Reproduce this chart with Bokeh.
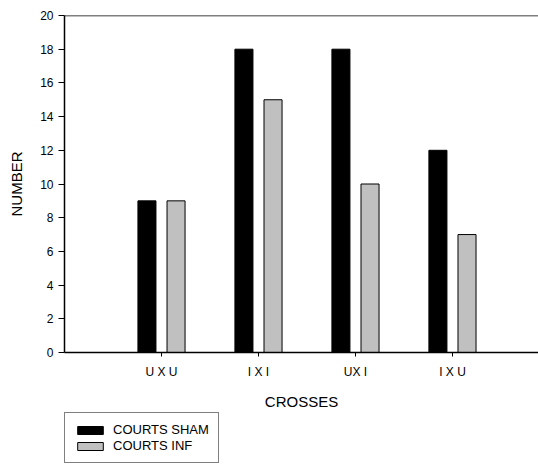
from bokeh.plotting import figure
from bokeh.layouts import column
from bokeh.models import Range1d, FixedTicker, ColumnDataSource, Legend, LegendItem, Span
from bokeh.embed import file_html
from bokeh.resources import INLINE

categories = ["U X U", "I X I", "UX I", "I X U"]
courts_sham = [9, 18, 18, 12]
courts_inf = [9, 15, 10, 7]
series_names = ["COURTS SHAM", "COURTS INF"]
y_ticks = [0, 2, 4, 6, 8, 10, 12, 14, 16, 18, 20]

xs = list(range(1, len(categories) + 1))
src = ColumnDataSource(dict(
    x_sham=[x - 0.15 for x in xs],
    x_inf=[x + 0.15 for x in xs],
    sham=courts_sham,
    inf=courts_inf,
))

FONT = "Liberation Sans"
SHAM_COLOR = "black"
INF_COLOR = "#c0c0c0"

p = figure(width=538, height=412, x_range=Range1d(0, 4.887), y_range=Range1d(0, 20),
           min_border_left=64, min_border_right=0, min_border_top=15, min_border_bottom=59,
           output_backend="svg", toolbar_location=None)

p.vbar(x="x_sham", top="sham", width=0.186, source=src,
       fill_color=SHAM_COLOR, line_color="black", line_width=1)
p.vbar(x="x_inf", top="inf", width=0.186, source=src,
       fill_color=INF_COLOR, line_color="black", line_width=1)

p.grid.visible = False
p.outline_line_color = None
p.background_fill_color = "white"
p.border_fill_color = "white"

p.add_layout(Span(location=20, dimension="width", line_color="black", line_width=1.5))

for ax in (p.xaxis, p.yaxis):
    ax.axis_label_text_font = FONT
    ax.axis_label_text_font_size = "15px"
    ax.axis_label_text_font_style = "normal"
    ax.axis_label_text_color = "black"
    ax.major_label_text_font = FONT
    ax.major_label_text_font_size = "12px"
    ax.major_label_text_color = "black"
    ax.major_tick_in = 0
    ax.minor_tick_line_color = None
    ax.axis_line_width = 1.5
    ax.axis_line_color = "black"
    ax.major_tick_line_color = "black"

# y axis
p.yaxis.ticker = FixedTicker(ticks=y_ticks)
p.yaxis.axis_label = "NUMBER"
p.yaxis.axis_label_standoff = 12
p.yaxis.major_label_standoff = 5
p.yaxis.major_tick_out = 6

# x axis
p.xaxis.ticker = FixedTicker(ticks=xs)
p.xaxis.major_label_overrides = {x: c for x, c in zip(xs, categories)}
p.xaxis.axis_label = "CROSSES"
p.xaxis.axis_label_standoff = 11
p.xaxis.major_label_standoff = 8
p.xaxis.major_tick_out = 4

# legend strip below the chart
p2 = figure(width=538, height=54, x_range=Range1d(0, 1), y_range=Range1d(0, 1),
            x_axis_location=None, y_axis_location=None,
            min_border_left=0, min_border_right=0, min_border_top=0, min_border_bottom=0,
            output_backend="svg", toolbar_location=None)
p2.grid.visible = False
p2.outline_line_color = None
p2.border_fill_color = "white"
dummy = ColumnDataSource(dict(x=[-10], top=[-10]))
l1 = p2.vbar(x="x", top="top", width=0.1, source=dummy,
             fill_color=SHAM_COLOR, line_color="black", line_width=1)
l2 = p2.vbar(x="x", top="top", width=0.1, source=dummy,
             fill_color=INF_COLOR, line_color="black", line_width=1)

legend = Legend(items=[LegendItem(label=series_names[0], renderers=[l1]),
                       LegendItem(label=series_names[1], renderers=[l2])],
                location=(0, 3), orientation="vertical",
                glyph_width=32, glyph_height=10, label_height=14, label_standoff=7,
                spacing=1, padding=9, margin=0,
                label_text_font=FONT, label_text_font_size="13px", label_text_color="black",
                border_line_color="black", border_line_width=1,
                background_fill_color="white", background_fill_alpha=1)
p2.add_layout(legend, "center")

layout = column(p, p2, spacing=0)
open("out.html", "w").write(file_html(layout, INLINE))
